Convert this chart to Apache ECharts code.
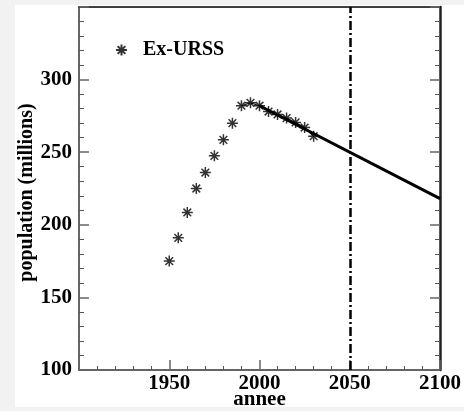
<!DOCTYPE html>
<html>
<head>
<meta charset="utf-8">
<script src="https://cdn.jsdelivr.net/npm/echarts@6/dist/echarts.min.js"></script>
<style>
    html, body { margin: 0; padding: 0; background: #f2f2f2; }
    #paper { position: absolute; left: 15px; top: 5px; width: 449px; height: 402px; background: #fff; }
    #dv { position: absolute; left: 0; top: 0; width: 464px; height: 411px; }
</style>
</head>
<body>
<div id="paper"></div>
<div id="dv"></div>
<script>
// donnees
var years = [1950, 1955, 1960, 1965, 1970, 1975, 1980, 1985, 1990, 1995, 2000, 2005, 2010, 2015, 2020, 2025, 2030]
var population = [175, 191, 208.5, 225, 236, 247.5, 258.5, 270, 282, 284, 282, 278, 276, 273.5, 270.5, 267, 261]
var trendYears = [2000, 2100]
var trendValues = [282, 218]
var projStart = 1990
var cutoffYear = 2050
var xTicks = [1950, 2000, 2050, 2100]
var yTicks = [100, 150, 200, 250, 300]

var serif = '"Liberation Serif", "DejaVu Serif", serif'
var star = 'path://M0,5L10,5M5,0L5,10M1.5,1.5L8.5,8.5M8.5,1.5L1.5,8.5'

var pts = years.map(function (y, i) { return [y, population[i]] })
var proj = pts.filter(function (p) { return p[0] >= projStart })
var trend = trendYears.map(function (y, i) { return [y, trendValues[i]] })

var chartDom = document.getElementById('dv')
var myChart = echarts.init(chartDom, null, { renderer: 'canvas' })

var option = {
    animation: false,
    backgroundColor: 'transparent',
    grid: { left: 79, right: 24, top: 7, bottom: 41, outerBoundsMode: 'none', containLabel: false },
    legend: {
        data: ['Ex-URSS'],
        left: 110,
        top: 35,
        itemWidth: 11,
        itemHeight: 11,
        textStyle: { fontFamily: serif, fontWeight: 'bold', fontSize: 20, color: '#000', padding: [0, 0, 0, 11] }
    },
    xAxis: [
        {
            type: 'value',
            min: 1900,
            max: 2100,
            interval: 50,
            name: 'annee',
            nameLocation: 'middle',
            nameGap: 19,
            nameMoveOverlap: false,
            nameTextStyle: { fontFamily: serif, fontWeight: 'bold', fontSize: 21, color: '#000' },
            axisLine: { lineStyle: { color: '#333', width: 1.5 } },
            axisTick: { inside: true, length: 10, lineStyle: { color: '#666', width: 1.5 } },
            minorTick: { show: true, splitNumber: 5, length: 4, lineStyle: { color: '#555', width: 1 } },
            splitLine: { show: false },
            axisLabel: {
                margin: 3,
                fontFamily: serif, fontWeight: 'bold', fontSize: 21, color: '#000',
                formatter: function (v) { return xTicks.indexOf(v) >= 0 ? String(v) : '' }
            }
        },
        {
            type: 'value',
            position: 'top',
            min: 1900,
            max: 2100,
            axisLine: { lineStyle: { color: '#000', width: 1.5 } },
            axisTick: { show: false },
            axisLabel: { show: false },
            splitLine: { show: false }
        }
    ],
    yAxis: [
        {
            type: 'value',
            min: 100,
            max: 350,
            interval: 50,
            name: 'population (millions)',
            nameLocation: 'middle',
            nameGap: 42,
            nameMoveOverlap: false,
            nameTextStyle: { fontFamily: serif, fontWeight: 'bold', fontSize: 20, color: '#000', padding: [0, 8, 0, 0] },
            axisLine: { lineStyle: { color: '#333', width: 1.5 } },
            axisTick: { inside: true, length: 10, lineStyle: { color: '#666', width: 1.5 } },
            minorTick: { show: true, splitNumber: 5, length: 5, lineStyle: { color: '#555', width: 1 } },
            splitLine: { show: false },
            axisLabel: {
                margin: 7,
                fontFamily: serif, fontWeight: 'bold', fontSize: 21, color: '#000',
                formatter: function (v) { return yTicks.indexOf(v) >= 0 ? String(v) : '' }
            }
        },
        {
            type: 'value',
            position: 'right',
            min: 100,
            max: 350,
            interval: 50,
            axisLine: { show: true, lineStyle: { color: '#222', width: 2.5 } },
            axisTick: { show: true, inside: true, length: 10, lineStyle: { color: '#666', width: 1.5 } },
            minorTick: { show: true, splitNumber: 5, length: 5, lineStyle: { color: '#555', width: 1 } },
            axisLabel: { show: false },
            splitLine: { show: false }
        }
    ],
    series: [
        {
            name: 'projection',
            type: 'line',
            data: proj,
            symbol: 'none',
            lineStyle: { color: '#000', width: 1 },
            z: 2
        },
        {
            name: 'tendance',
            type: 'line',
            data: trend,
            symbol: 'none',
            lineStyle: { color: '#000', width: 3 },
            z: 3,
            markLine: {
                silent: true,
                symbol: 'none',
                label: { show: false },
                lineStyle: { color: '#000', width: 2.5, type: [9, 3, 2, 3] },
                data: [{ xAxis: cutoffYear }]
            }
        },
        {
            name: 'Ex-URSS',
            type: 'scatter',
            data: pts,
            symbol: star,
            symbolSize: 11,
            itemStyle: { color: 'transparent', borderColor: '#000', borderWidth: 1.5 },
            z: 4
        }
    ]
}

myChart.setOption(option)
</script>
</body>
</html>
